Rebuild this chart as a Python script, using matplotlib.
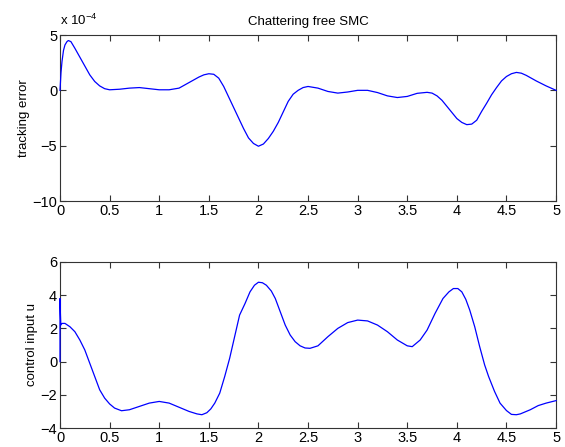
import numpy as np
import matplotlib
matplotlib.use("Agg")
import matplotlib.pyplot as plt

plt.rcParams['font.family'] = ['Liberation Sans', 'DejaVu Sans']
plt.rcParams['mathtext.fontset'] = 'custom'
plt.rcParams['mathtext.rm'] = 'Liberation Sans'

#%% Data
# tracking error, in units of 1e-4
t_err = [0, 0.01, 0.02, 0.035, 0.05, 0.07, 0.084, 0.11, 0.15, 0.2, 0.25, 0.3,
         0.35, 0.4, 0.45, 0.5, 0.6, 0.7, 0.8, 0.9, 1.0, 1.1, 1.2, 1.3, 1.4,
         1.45, 1.5, 1.55, 1.6, 1.65, 1.7, 1.75, 1.8, 1.85, 1.9, 1.95, 2.0,
         2.05, 2.1, 2.15, 2.2, 2.25, 2.3, 2.35, 2.4, 2.45, 2.5, 2.6, 2.7, 2.8,
         2.9, 3.0, 3.1, 3.2, 3.3, 3.4, 3.5, 3.6, 3.7, 3.75, 3.8, 3.85, 3.9,
         3.95, 4.0, 4.05, 4.1, 4.15, 4.2, 4.25, 4.3, 4.35, 4.4, 4.45, 4.5,
         4.55, 4.6, 4.65, 4.7, 4.8, 4.9, 5.0]
err_e4 = [0, 1.6, 2.6, 3.6, 4.1, 4.4, 4.5, 4.4, 3.8, 3.0, 2.2, 1.4,
          0.8, 0.4, 0.15, 0.05, 0.1, 0.2, 0.25, 0.15, 0.05, 0.05, 0.2, 0.7, 1.2,
          1.4, 1.5, 1.45, 1.1, 0.35, -0.6, -1.55, -2.5, -3.45, -4.3, -4.8, -5.05,
          -4.85, -4.35, -3.7, -2.9, -1.95, -1.0, -0.35, 0.0, 0.25, 0.35, 0.2, -0.1, -0.25,
          -0.15, 0.0, 0.0, -0.2, -0.5, -0.65, -0.55, -0.27, -0.18, -0.25, -0.5, -0.9, -1.45,
          -2.0, -2.55, -2.9, -3.1, -3.05, -2.7, -1.9, -1.17, -0.4, 0.25, 0.85, 1.25,
          1.5, 1.62, 1.55, 1.35, 0.85, 0.4, 0.0]

# control input
t_u = [0, 0.0, 0.004, 0.008, 0.02, 0.05, 0.1, 0.15, 0.2, 0.25, 0.3, 0.35, 0.4,
       0.45, 0.5, 0.55, 0.62, 0.7, 0.8, 0.9, 1.0, 1.1, 1.2, 1.3, 1.38, 1.43,
       1.48, 1.52, 1.56, 1.61, 1.66, 1.71, 1.76, 1.81, 1.865, 1.915, 1.96,
       2.0, 2.04, 2.08, 2.13, 2.17, 2.22, 2.27, 2.32, 2.37, 2.42, 2.47, 2.52,
       2.6, 2.7, 2.8, 2.9, 3.0, 3.1, 3.2, 3.3, 3.4, 3.5, 3.55, 3.63, 3.7,
       3.78, 3.86, 3.92, 3.965, 4.01, 4.05, 4.09, 4.13, 4.18, 4.23, 4.28, 4.32,
       4.38, 4.435, 4.5, 4.55, 4.6, 4.64, 4.74, 4.82, 4.9, 5.0]
u = [0, 3.8, 2.9, 2.2, 2.3, 2.3, 2.1, 1.8, 1.3, 0.7, -0.1, -0.9, -1.7,
     -2.2, -2.55, -2.8, -2.96, -2.9, -2.7, -2.5, -2.4, -2.5, -2.75, -3.0, -3.15, -3.2,
     -3.08, -2.85, -2.5, -1.9, -0.9, 0.2, 1.5, 2.8, 3.5, 4.2, 4.6,
     4.78, 4.75, 4.6, 4.25, 3.8, 3.0, 2.2, 1.6, 1.2, 0.95, 0.82, 0.8,
     0.95, 1.5, 2.0, 2.35, 2.5, 2.45, 2.2, 1.8, 1.3, 0.95, 0.9, 1.3, 1.9,
     2.9, 3.8, 4.2, 4.4, 4.4, 4.2, 3.75, 3.1, 2.1, 0.9, -0.2, -0.9,
     -1.8, -2.5, -2.95, -3.18, -3.2, -3.15, -2.9, -2.65, -2.5, -2.35]

xticks = [0, 0.5, 1, 1.5, 2, 2.5, 3, 3.5, 4, 4.5, 5]
xticklabels = ['0', '0.5', '1', '1.5', '2', '2.5', '3', '3.5', '4', '4.5', '5']

#%% Plot
fig = plt.figure(figsize=(5.65, 4.47), dpi=100)
ax1 = fig.add_axes([0.1062, 0.5503, 0.878, 0.3714])
ax2 = fig.add_axes([0.1062, 0.0425, 0.878, 0.3714])

ax1.plot(t_err, err_e4, color='#0000ff', lw=0.9, clip_on=False, zorder=5)
ax1.set_xlim(0, 5)
ax1.set_ylim(-10, 5)
ax1.set_yticks([-10, -5, 0, 5])
ax1.set_ylabel('tracking error', fontsize=9.5, labelpad=2)
ax1.set_title('Chattering free SMC', fontsize=9.5, pad=7)
ax1.text(0.0, 1.04, r'x 10$^{\mathregular{-4}}$', transform=ax1.transAxes,
         fontsize=9.5, ha='left', va='bottom')

ax2.plot(t_u, u, color='#0000ff', lw=0.9, clip_on=False, zorder=5)
ax2.set_xlim(0, 5)
ax2.set_ylim(-4, 6)
ax2.set_yticks([-4, -2, 0, 2, 4, 6])
ax2.set_ylabel('control input u', fontsize=9.5, labelpad=2)

for ax in (ax1, ax2):
    ax.set_xticks(xticks)
    ax.set_xticklabels(xticklabels)
    ax.tick_params(direction='in', length=4, width=0.8, top=True, right=True,
                   labelsize=10.5, pad=2, color='#333333')
    for s in ax.spines.values():
        s.set_color('#333333')
        s.set_linewidth(0.8)

fig.savefig('out.png', dpi=100, facecolor='white')
